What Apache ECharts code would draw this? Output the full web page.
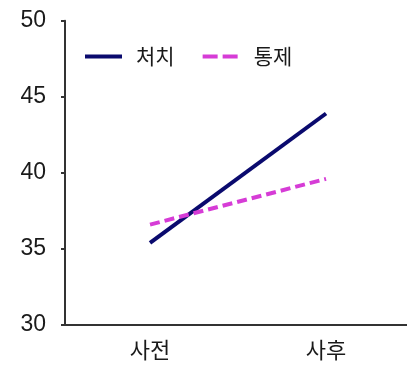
<!DOCTYPE html>
<html><head><meta charset="utf-8">
<script src="https://cdn.jsdelivr.net/npm/echarts@6/dist/echarts.min.js"></script>
<style>html,body{margin:0;padding:0;background:#fff}#c{width:407px;height:366px}</style>
</head><body><div id="c"></div>
<script>
var categories = ['사전', '사후'];
var seriesNames = ['처치', '통제'];
var treatment = [35.4, 43.9];
var control = [36.6, 39.6];
var yTicks = [30, 35, 40, 45, 50];

function pts(arr){ return arr.map(function(v,i){ return [i, v]; }); }
var chart = echarts.init(document.getElementById('c'));
chart.setOption({
  animation: false,
  backgroundColor: '#fff',
  grid: { left: 65, right: 0, top: 20.7, bottom: 41, containLabel: false },
  legend: {
    left: 78, top: 41, itemWidth: 37, itemHeight: 24, itemGap: 26,
    data: [ { name: seriesNames[0] }, { name: seriesNames[1], lineStyle: { type: [15, 5] } } ],
    itemStyle: { opacity: 0 },
    lineStyle: { width: 4 },
    textStyle: { fontFamily: 'Noto Sans CJK KR', fontSize: 21, color: '#1a1a1a', padding: [0,0,0,9] }
  },
  xAxis: {
    type: 'value', min: -0.483, max: 1.46,
    splitLine: { show: false },
    axisLine: { show: true, onZero: false, lineStyle: { color: '#333', width: 2 } },
    axisTick: { show: false },
    axisLabel: {
      customValues: [0, 1],
      formatter: function(v){ return categories[Math.round(v)]; },
      fontFamily: 'Noto Sans CJK KR', fontSize: 22, color: '#1a1a1a', margin: 14
    }
  },
  yAxis: {
    type: 'value', min: yTicks[0], max: yTicks[yTicks.length-1], interval: 5,
    splitLine: { show: false },
    axisLine: { show: true, onZero: false, lineStyle: { color: '#333', width: 2 } },
    axisTick: { show: true, length: 4, lineStyle: { color: '#333', width: 2 } },
    axisLabel: { fontFamily: 'Liberation Sans', fontSize: 23, color: '#1a1a1a', margin: 19 }
  },
  series: [
    { name: seriesNames[0], type: 'line', data: pts(treatment), symbol: 'none',
      lineStyle: { color: '#0a0a6e', width: 4 }, itemStyle: { color: '#0a0a6e' } },
    { name: seriesNames[1], type: 'line', data: pts(control), symbol: 'none',
      lineStyle: { color: '#d63cd6', width: 4, type: [10, 5] }, itemStyle: { color: '#d63cd6' } }
  ]
});
</script></body></html>
